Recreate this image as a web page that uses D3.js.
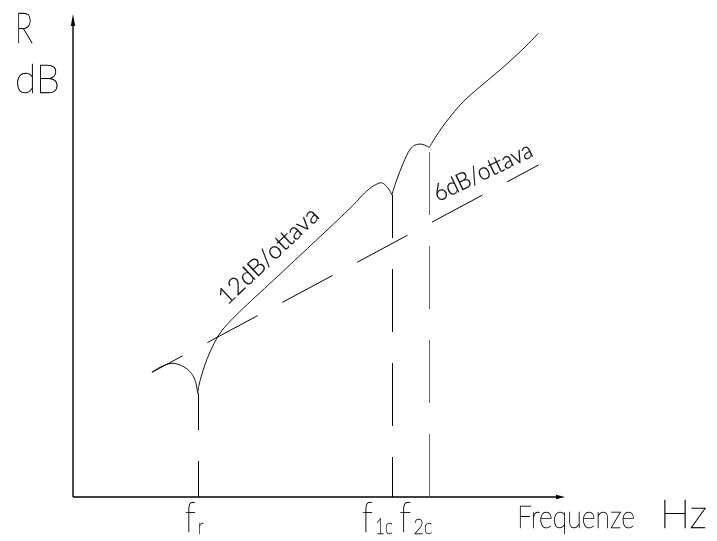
<!DOCTYPE html>
<html><head><meta charset="utf-8">
<script src="https://cdn.jsdelivr.net/npm/d3@7"></script>
<style>
html,body{margin:0;padding:0;background:#fff;}
svg{display:block;}
text{font-family:"Lato","Inter","Roboto","DejaVu Sans",sans-serif;font-weight:200;fill:#000;stroke:#000;stroke-width:0.45;}
text.small{font-weight:300;stroke-width:0.2;}
.labels{filter:grayscale(1);}
</style></head><body>
<svg id="chart" width="717" height="541"></svg>
<script>
// ---- data (arbitrary units: x = log-frequency position 0..100, y = level 0..100) ----
const yTitleLines = ["R", "dB"];
const xTitleParts = ["Frequenze", "Hz"];
const markNames = ["f", "f", "f"];
const markSubs = ["r", "1c", "2c"];
const markFreq = [25.35, 64.8, 72.4];
const slopeLabels = ["12dB/ottava", "6dB/ottava"];

const responseFreq = [16.04,17.68,20.06,22.09,23.78,24.8,25.35,
  25.6,26.1,26.8,27.85,29.5,31.5,44.2,57.0,59.3,61.0,62.7,63.6,64.3,64.8,
  65.8,67.1,68.5,69.5,70.9,71.9,72.4,
  74.6,77.0,79.3,82.7,86.8,90.9,94.6];
const responseLevel = [25.87,26.9,27.74,27.24,26.0,24.27,21.51,
  23.2,25.1,27.4,30.1,33.4,36.0,48.26,60.6,63.1,64.5,65.2,64.6,63.7,62.7,
  65.8,69.2,72.1,73.0,73.2,72.8,72.5,
  76.1,79.3,82.0,85.1,88.6,92.4,96.2];
const massLawFreq = [16.04, 94.62];
const massLawLevel = [25.87, 68.88];

// ---- drawing ----
const svg = d3.select("#chart");
const x = d3.scaleLinear().domain([0,100]).range([73,565]);
const y = d3.scaleLinear().domain([0,100]).range([497,15]);

// axes
const gx = svg.append("g").attr("transform",`translate(0,${y(0)-0.5})`)
  .call(d3.axisBottom(x).tickValues([]).tickSizeOuter(0));
const gy = svg.append("g").attr("transform",`translate(${x(0)-0.5},0)`)
  .call(d3.axisLeft(y).tickValues([]).tickSizeOuter(0));
gx.select(".domain").attr("stroke","#000").attr("stroke-width",1.6).attr("d",`M${x(0)},0.5H${x(100)-6}`);
gy.select(".domain").attr("stroke","#000").attr("stroke-width",1.4).attr("d",`M0.5,${y(0)}V${y(100)+8}`);
// arrowheads
svg.append("path").attr("d",`M${x(100)},${y(0)}L${x(100)-9},${y(0)-2.2}L${x(100)-9},${y(0)+2.2}Z`).attr("fill","#000");
svg.append("path").attr("d",`M${x(0)},${y(100)-1}L${x(0)-2.2},${y(100)+11}L${x(0)+2.2},${y(100)+11}Z`).attr("fill","#000");

// response curve, split at the cusps
const pts = responseFreq.map((f,i)=>[f,responseLevel[i]]);
const line = d3.line().x(d=>x(d[0])).y(d=>y(d[1])).curve(d3.curveCatmullRom.alpha(0.5));
const bounds = [-Infinity, ...markFreq, Infinity];
for (let i=0;i<bounds.length-1;i++){
  const seg = pts.filter(p=>p[0]>=bounds[i] && p[0]<=bounds[i+1]);
  if (seg.length>1) svg.append("path").attr("d",line(seg)).attr("fill","none")
    .attr("stroke","#111").attr("stroke-width",1);
}

// mass law dashed line
svg.append("line")
  .attr("x1",x(massLawFreq[0])).attr("y1",y(massLawLevel[0]))
  .attr("x2",x(massLawFreq[1])).attr("y2",y(massLawLevel[1]))
  .attr("stroke","#000").attr("stroke-width",1)
  .attr("stroke-dasharray","57,28").attr("stroke-dashoffset",22);

// vertical dashed lines at the marks
const levelAt = f => responseLevel[responseFreq.indexOf(f)];
const dashOffsets = [27, 23, 0];
const vColors = ["#000","#000","#666"];
markFreq.forEach((f,i)=>{
  svg.append("line")
    .attr("x1",Math.round(x(f))+0.5).attr("x2",Math.round(x(f))+0.5)
    .attr("y1",y(0)).attr("y2",y(levelAt(f)))
    .attr("stroke",vColors[i]).attr("stroke-width",1)
    .attr("stroke-dasharray","63,31").attr("stroke-dashoffset",dashOffsets[i]);
});

const labels = svg.append("g").attr("class","labels");

// mark labels (f with subscript)
const labelDx = [-13, -30, -30];
const labelLen = [19, 31, 33];
markFreq.forEach((f,i)=>{
  const t = labels.append("text").attr("x",x(f)+labelDx[i]).attr("y",532)
    .attr("textLength",labelLen[i]).attr("lengthAdjust","spacingAndGlyphs");
  t.append("tspan").attr("font-size",42).text(markNames[i]);
  t.append("tspan").attr("font-size",21).attr("dy",2).attr("dx",3).text(markSubs[i]);
});

// axis titles
labels.append("text").attr("x",15).attr("y",43).attr("font-size",41)
  .attr("textLength",18).attr("lengthAdjust","spacingAndGlyphs").text(yTitleLines[0]);
labels.append("text").attr("x",15).attr("y",93).attr("font-size",39)
  .attr("textLength",45).attr("lengthAdjust","spacingAndGlyphs").text(yTitleLines[1]);
labels.append("text").attr("x",517).attr("y",528).attr("font-size",32)
  .attr("textLength",118).attr("lengthAdjust","spacingAndGlyphs").text(xTitleParts[0]);
labels.append("text").attr("x",660).attr("y",528).attr("font-size",40)
  .attr("textLength",47).attr("lengthAdjust","spacingAndGlyphs").text(xTitleParts[1]);

// slope labels
labels.append("text").attr("class","small").attr("transform","translate(227,306) rotate(-43.4)").attr("font-size",24)
  .attr("textLength",129).attr("lengthAdjust","spacingAndGlyphs").text(slopeLabels[0]);
labels.append("text").attr("class","small").attr("transform","translate(438,202) rotate(-25.5)").attr("font-size",24)
  .attr("textLength",107).attr("lengthAdjust","spacingAndGlyphs").text(slopeLabels[1]);
</script>
</body></html>
